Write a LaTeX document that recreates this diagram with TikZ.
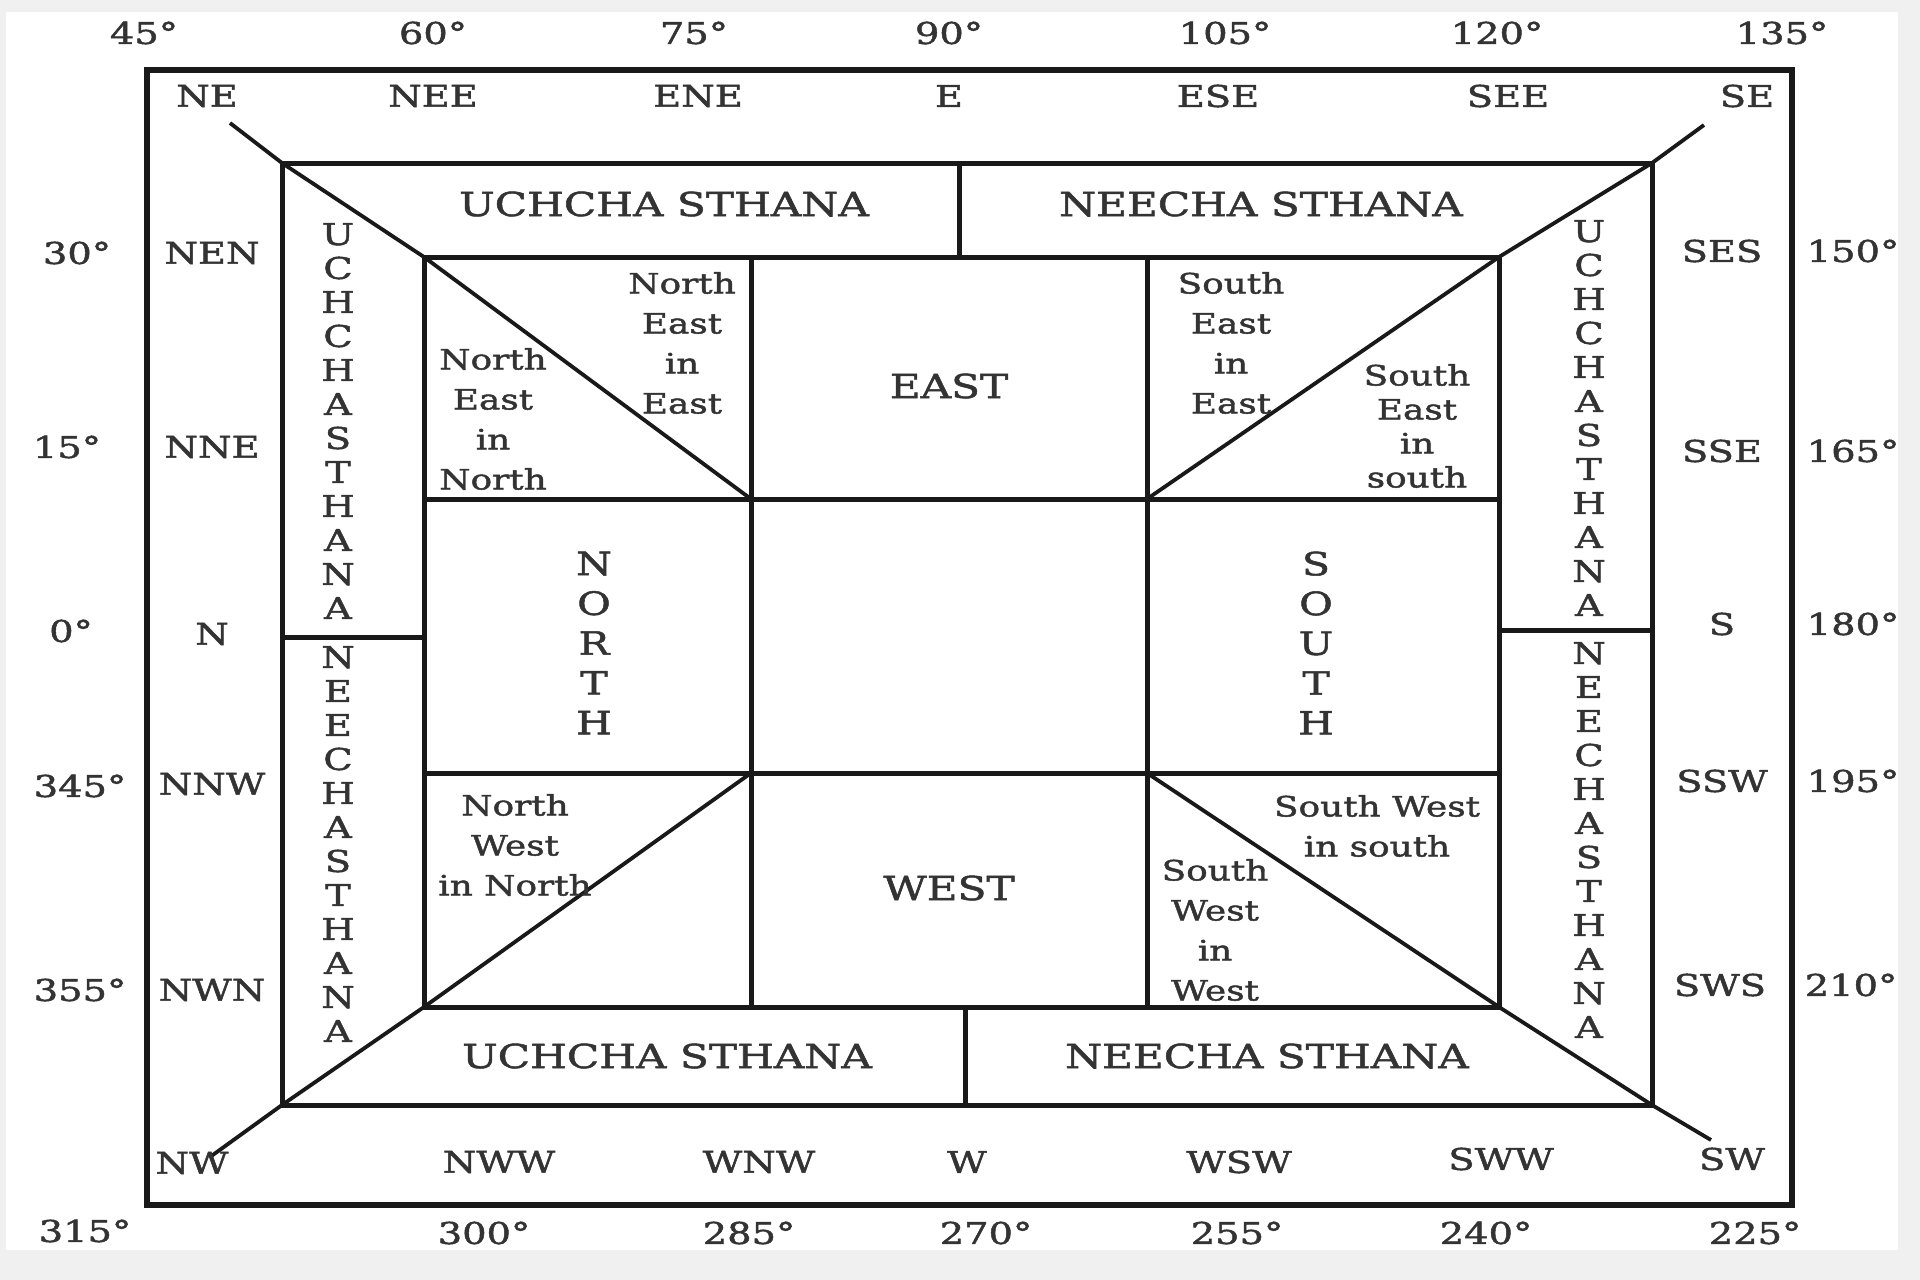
\documentclass[tikz,border=0pt]{standalone}
\usepackage{fontspec}
\setmainfont{DejaVu Serif}[FakeStretch=1.28, FakeBold=1.6]
\begin{document}
\begin{tikzpicture}[x=1pt,y=-1pt,
  frame/.style={line width=5pt, black!90},
  outerframe/.style={line width=6.5pt, black!90},
  diag/.style={line width=3.8pt, black!90},
  lbl/.style={font=\fontsize{30}{36}\selectfont, text=black!80, inner sep=0pt},
  band/.style={font=\fontsize{33}{36}\selectfont, text=black!80, inner sep=0pt},
  vert/.style={font=\fontsize{30}{34}\selectfont, align=center, text=black!80, inner sep=0pt},
  vertb/.style={font=\fontsize{32}{39.8}\selectfont, align=center, text=black!80, inner sep=0pt},
  cell/.style={font=\fontsize{28}{40}\selectfont, align=center, text=black!80, inner sep=0pt},
  cellt/.style={font=\fontsize{28}{34}\selectfont, align=center, text=black!80, inner sep=0pt},
]
\fill[gray!12] (0,0) rectangle (1920,1280);
\fill[white] (6,12) rectangle (1898,1250);
\useasboundingbox (0,0) rectangle (1920,1280);

% corners
\coordinate (o1) at (147,70);   \coordinate (o2) at (1792,70);
\coordinate (o3) at (1792,1205); \coordinate (o4) at (147,1205);
\coordinate (m1) at (282,163);  \coordinate (m2) at (1652,163);
\coordinate (m3) at (1652,1105); \coordinate (m4) at (282,1105);
\coordinate (i1) at (424,257);  \coordinate (i2) at (1499,257);
\coordinate (i3) at (1499,1007); \coordinate (i4) at (424,1007);
% inner grid
\coordinate (va1) at (751,257);  \coordinate (va2) at (751,1007);
\coordinate (vb1) at (1147,257); \coordinate (vb2) at (1147,1007);
\coordinate (ha1) at (424,499);  \coordinate (ha2) at (1499,499);
\coordinate (hb1) at (424,773);  \coordinate (hb2) at (1499,773);
\coordinate (c1) at (751,499);  \coordinate (c2) at (1147,499);
\coordinate (c3) at (751,773);  \coordinate (c4) at (1147,773);
% band dividers
\coordinate (dt1) at (959,163);  \coordinate (dt2) at (959,257);
\coordinate (db1) at (965,1007); \coordinate (db2) at (965,1105);
\coordinate (dl1) at (282,637);  \coordinate (dl2) at (424,637);
\coordinate (dr1) at (1499,630); \coordinate (dr2) at (1652,630);
% diagonal ends
\coordinate (ne) at (230,123);  \coordinate (se) at (1704,125);
\coordinate (sw) at (1711,1140); \coordinate (nw) at (210,1157);

% diagonals
\draw[diag] (ne) -- (m1) -- (i1);
\draw[diag] (se) -- (m2) -- (i2);
\draw[diag] (sw) -- (m3) -- (i3);
\draw[diag] (nw) -- (m4) -- (i4);
\draw[diag] (i1) -- (c1);
\draw[diag] (c2) -- (i2);
\draw[diag] (i4) -- (c3);
\draw[diag] (c4) -- (i3);

% frames
\draw[outerframe] (o1) -- (o2) -- (o3) -- (o4) -- cycle;
\draw[frame] (m1) -- (m2) -- (m3) -- (m4) -- cycle;
\draw[frame] (i1) -- (i2) -- (i3) -- (i4) -- cycle;
\draw[frame] (va1) -- (va2);
\draw[frame] (vb1) -- (vb2);
\draw[frame] (ha1) -- (ha2);
\draw[frame] (hb1) -- (hb2);
\draw[frame] (dt1) -- (dt2);
\draw[frame] (db1) -- (db2);
\draw[frame] (dl1) -- (dl2);
\draw[frame] (dr1) -- (dr2);

% top degrees
\node[lbl] (d45)  at (144,33)  {45°};
\node[lbl] (d60)  at (433,33)  {60°};
\node[lbl] (d75)  at (694,33)  {75°};
\node[lbl] (d90)  at (949,33)  {90°};
\node[lbl] (d105) at (1225,33) {105°};
\node[lbl] (d120) at (1497,33) {120°};
\node[lbl] (d135) at (1782,33) {135°};
% top compass
\node[lbl] (cNE)  at (207,96)  {NE};
\node[lbl] (cNEE) at (433,96)  {NEE};
\node[lbl] (cENE) at (698,96)  {ENE};
\node[lbl] (cE)   at (949,96)  {E};
\node[lbl] (cESE) at (1218,96) {ESE};
\node[lbl] (cSEE) at (1508,96) {SEE};
\node[lbl] (cSE)  at (1747,96) {SE};
% left
\node[lbl] (d30)  at (77,253)  {30°};
\node[lbl] (d15)  at (67,447)  {15°};
\node[lbl] (d0)   at (71,631)  {0°};
\node[lbl] (d345) at (80,786)  {345°};
\node[lbl] (d355) at (80,990)  {355°};
\node[lbl] (cNEN) at (212,253) {NEN};
\node[lbl] (cNNE) at (212,447) {NNE};
\node[lbl] (cN)   at (212,634) {N};
\node[lbl] (cNNW) at (212,784) {NNW};
\node[lbl] (cNWN) at (212,990) {NWN};
\node[lbl] (cNW)  at (192,1163) {NW};
% right
\node[lbl] (cSES) at (1722,251) {SES};
\node[lbl] (cSSE) at (1722,451) {SSE};
\node[lbl] (cS)   at (1722,624) {S};
\node[lbl] (cSSW) at (1722,781) {SSW};
\node[lbl] (cSWS) at (1720,985) {SWS};
\node[lbl] (cSW)  at (1732,1159) {SW};
\node[lbl] (d150) at (1853,251) {150°};
\node[lbl] (d165) at (1853,451) {165°};
\node[lbl] (d180) at (1853,624) {180°};
\node[lbl] (d195) at (1853,781) {195°};
\node[lbl] (d210) at (1851,985) {210°};
% bottom
\node[lbl] (cNWW) at (499,1162) {NWW};
\node[lbl] (cWNW) at (759,1162) {WNW};
\node[lbl] (cW)   at (967,1162) {W};
\node[lbl] (cWSW) at (1239,1162) {WSW};
\node[lbl] (cSWW) at (1501,1159) {SWW};
\node[lbl] (d315) at (85,1231)  {315°};
\node[lbl] (d300) at (484,1233) {300°};
\node[lbl] (d285) at (749,1233) {285°};
\node[lbl] (d270) at (986,1233) {270°};
\node[lbl] (d255) at (1237,1233) {255°};
\node[lbl] (d240) at (1486,1233) {240°};
\node[lbl] (d225) at (1755,1233) {225°};

% bands
\node[band] (ut) at (664,204)  {UCHCHA STHANA};
\node[band] (nt) at (1261,204) {NEECHA STHANA};
\node[band] (ub) at (667,1056) {UCHCHA STHANA};
\node[band] (nb) at (1267,1056) {NEECHA STHANA};
\node[vert] (ul) at (338,421) {U\\C\\H\\C\\H\\A\\S\\T\\H\\A\\N\\A};
\node[vert] (nl) at (338,844) {N\\E\\E\\C\\H\\A\\S\\T\\H\\A\\N\\A};
\node[vert] (ur) at (1589,418) {U\\C\\H\\C\\H\\A\\S\\T\\H\\A\\N\\A};
\node[vert] (nr) at (1589,840) {N\\E\\E\\C\\H\\A\\S\\T\\H\\A\\N\\A};

% inner cells
\node[cell] (neE) at (682,343) {North\\East\\in\\East};
\node[cell] (neN) at (493,419) {North\\East\\in\\North};
\node[band] (east) at (949,386) {EAST};
\node[cell] (seE) at (1231,343) {South\\East\\in\\East};
\node[cellt] (seS) at (1417,426) {South\\East\\in\\south};
\node[vertb] (north) at (594,643) {N\\O\\R\\T\\H};
\node[vertb] (south) at (1316,643) {S\\O\\U\\T\\H};
\node[cell] (nwN) at (515,845) {North\\West\\in North};
\node[band] (west) at (949,888) {WEST};
\node[cell] (swS) at (1377,826) {South West\\in south};
\node[cell] (swW) at (1215,930) {South\\West\\in\\West};
\end{tikzpicture}
\end{document}
